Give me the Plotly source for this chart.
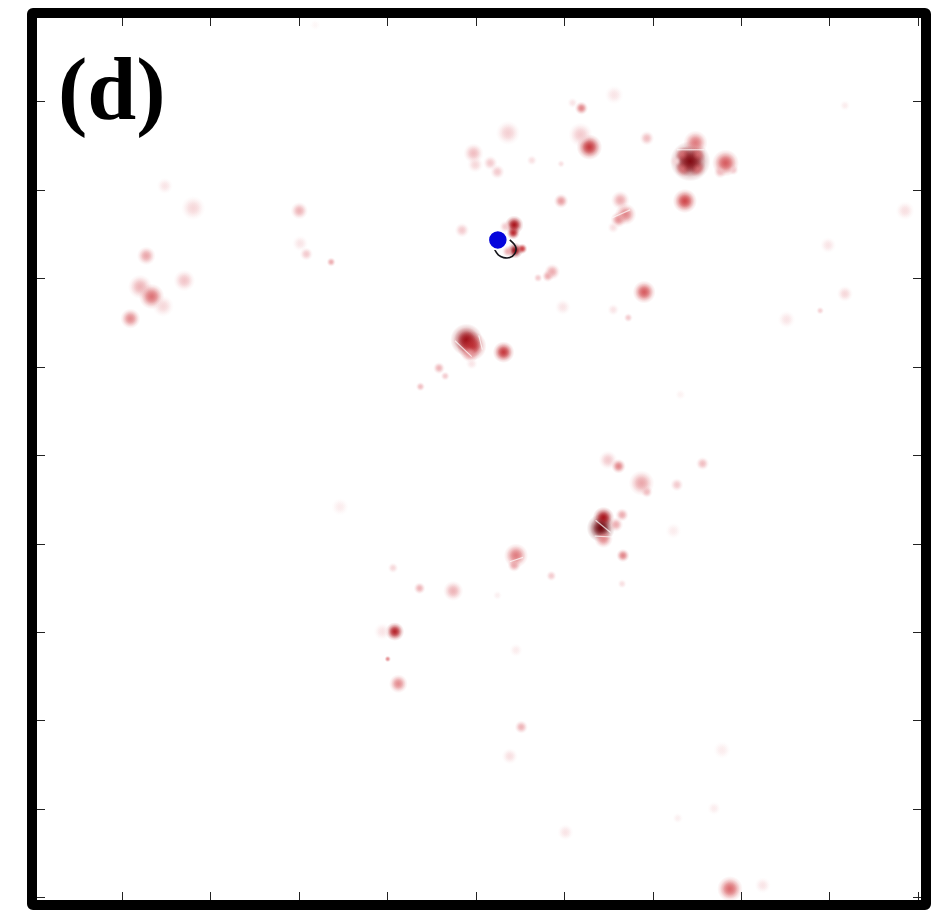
import plotly.graph_objects as go
from plotly.colors import sample_colorscale

# blobs: axis position, strength (0-1), diameter
blob_x = [7.34, 7.50, 7.34, 7.50, 7.42, 7.48, 7.26, 7.82, 7.76, 7.91, 7.36, 6.28, 6.18, 6.19, 6.09, 6.56, 6.93, 5.36, 4.97, 4.99,
          5.16, 5.24, 5.63, 5.96, 5.96, 6.63, 6.69, 6.61, 6.55, 4.84, 5.43, 5.42, 5.33, 5.44, 5.52, 5.36,
          5.86, 5.81, 5.70, 6.90, 5.98, 6.55, 6.72, 4.89, 4.95, 4.93, 5.31, 4.58, 4.65, 4.37, 4.95,
          1.48, 1.80, 3.00, 3.01, 3.08, 3.36, 1.27, 1.20, 1.33, 1.46, 1.70, 1.09,
          6.49, 6.61, 6.87, 6.93, 7.27, 7.56, 6.44, 6.41, 6.44, 6.58, 6.65, 6.66, 6.65, 7.23,
          5.45, 5.43, 5.85, 4.74, 4.36, 4.06, 4.08, 3.94, 4.00, 4.12, 5.45, 5.24, 3.46,
          7.87, 8.24, 6.01, 5.51, 5.38, 7.78, 7.69, 7.28, 9.85, 8.98, 9.17, 8.51, 8.89, 9.17, 7.31, 3.18]
blob_y = [8.40, 8.40, 8.25, 8.25, 8.33, 8.54, 8.33, 8.31, 8.21, 8.23, 7.88, 8.49, 8.63, 8.93, 8.99, 9.08, 8.59, 8.65, 8.42, 8.29,
          8.31, 8.21, 8.34, 8.30, 7.88, 7.89, 7.73, 7.67, 7.58, 7.55, 7.61, 7.52, 7.59, 7.32, 7.34, 7.31,
          7.08, 7.03, 7.01, 6.85, 6.68, 6.65, 6.56, 6.31, 6.24, 6.16, 6.17, 5.99, 5.90, 5.78, 6.04,
          8.05, 7.80, 7.77, 7.40, 7.28, 7.19, 7.26, 6.91, 6.80, 6.69, 6.98, 6.55,
          4.95, 4.88, 4.69, 4.59, 4.67, 4.91, 4.30, 4.18, 4.06, 4.22, 4.33, 3.87, 3.55, 4.15,
          3.87, 3.76, 3.64, 3.47, 3.50, 3.73, 3.01, 3.01, 2.70, 2.42, 2.80, 3.42, 4.42,
          0.10, 0.14, 0.74, 1.93, 1.60, 1.67, 1.01, 0.90, 7.77, 7.38, 6.83, 6.54, 6.64, 8.96, 5.69, 9.87]
blob_val = [.45, .45, .45, .45, .95, .45, .15, .55, .25, .2, .62, .68, .2, .42, .1, .1, .25, .18, .25, .15,
            .2, .2, .12, .12, .35, .3, .42, .38, .12, .2, .85, .75, .2, .9, .65, .3,
            .3, .3, .2, .55, .1, .1, .2, .88, .72, .35, .68, .28, .2, .25, .1,
            .1, .15, .28, .1, .2, .3, .32, .28, .48, .15, .22, .4,
            .2, .42, .32, .25, .2, .25, .85, 1.0, .4, .3, .3, .42, .12, .07,
            .45, .32, .2, .28, .28, .15, .78, .1, .4, .4, .07, .06, .07,
            .5, .1, .1, .28, .12, .07, .07, .06, .12, .1, .15, .1, .18, .07, .05, .03]
blob_size = [13, 13, 13, 13, 30, 18, 9, 20, 10, 8, 18, 19, 18, 10, 8, 14, 11, 18, 15, 12,
             11, 11, 8, 6, 11, 14, 16, 12, 9, 11, 14, 10, 9, 12, 8, 9,
             12, 9, 7, 17, 12, 9, 7, 24, 22, 14, 16, 9, 7, 7, 9,
             12, 18, 13, 12, 10, 7, 14, 18, 19, 16, 16, 15,
             14, 11, 19, 9, 10, 10, 16, 21, 14, 11, 10, 10, 7, 12,
             18, 10, 8, 15, 9, 8, 14, 13, 5, 14, 10, 7, 13,
             19, 12, 12, 10, 12, 13, 10, 8, 14, 12, 12, 13, 6, 8, 8, 8]

# thin white streaks cutting through the strong blobs
streak_x = [4.76, 4.95, None, 5.03, 5.07, None, 7.27, 7.58, None, 6.35, 6.52, None, 6.34, 6.55, None,
            6.54, 6.74, None, 5.38, 5.53]
streak_y = [6.30, 6.12, None, 6.36, 6.20, None, 8.46, 8.46, None, 4.27, 4.13, None, 4.09, 4.08, None,
            7.69, 7.78, None, 3.80, 3.85]

# black trajectory near the blue point
arc_x = [5.21, 5.25, 5.31, 5.38, 5.44, 5.45, 5.43, 5.38]
arc_y = [7.33, 7.27, 7.24, 7.24, 7.29, 7.35, 7.39, 7.44]

point_x = [5.245]
point_y = [7.44]

tick_x = [1, 2, 3, 4, 5, 6, 7, 8, 9, 10]
tick_y = [0, 1, 2, 3, 4, 5, 6, 7, 8, 9]

reds = [[0, "#ffffff"], [0.25, "#f0bcc0"], [0.6, "#d2484c"], [0.85, "#a81018"], [1, "#6a0008"]]

centre_colors = sample_colorscale(reds, blob_val)
rim_colors = [c.replace("rgb(", "rgba(").replace(")", ", 0)") for c in centre_colors]

fig = go.Figure()

# three stacked radial gradients give a soft blob with a flat-ish middle
for scale in [1.35, 1.05, 0.75]:
    fig.add_trace(go.Scatter(
        x=blob_x, y=blob_y, mode="markers", hoverinfo="skip",
        marker=dict(
            color=rim_colors, size=[s * scale for s in blob_size],
            line=dict(width=0),
            gradient=dict(type="radial", color=centre_colors),
        ),
    ))
fig.add_trace(go.Scatter(
    x=streak_x, y=streak_y, mode="lines", hoverinfo="skip",
    line=dict(color="rgba(255,255,255,0.7)", width=1.2),
))
fig.add_trace(go.Scatter(
    x=arc_x, y=arc_y, mode="lines", hoverinfo="skip",
    line=dict(color="#15151a", width=1.6, shape="spline"),
))
fig.add_trace(go.Scatter(
    x=point_x, y=point_y, mode="markers", hoverinfo="skip",
    marker=dict(color="#0505dc", size=19, line=dict(color="white", width=1.5)),
))

axis = dict(showgrid=False, zeroline=False, showticklabels=False, ticks="inside",
            ticklen=8, tickwidth=1, tickcolor="#222222", mirror="ticks",
            showline=True, linecolor="#666666", linewidth=1)
fig.update_xaxes(axis, range=[0.034, 10.03], tickvals=tick_x)
fig.update_yaxes(axis, range=[-0.026, 9.95], tickvals=tick_y)

# heavy rounded frame, just outside the plot area
fl, fr, fb, ft = -5 / 884, 1 + 5 / 884, -5 / 882, 1 + 5 / 882
dx, dy = 1 / 884, 1 / 882
frame = (f"M {fl + dx} {ft} L {fr - dx} {ft} Q {fr} {ft} {fr} {ft - dy} "
         f"L {fr} {fb + dy} Q {fr} {fb} {fr - dx} {fb} "
         f"L {fl + dx} {fb} Q {fl} {fb} {fl} {fb + dy} "
         f"L {fl} {ft - dy} Q {fl} {ft} {fl + dx} {ft} Z")
fig.add_shape(type="path", path=frame, xref="paper", yref="paper",
              line=dict(color="black", width=10))

fig.add_annotation(
    text="<b>(d)</b>", xref="paper", yref="paper", x=0.022, y=0.976,
    xanchor="left", yanchor="top", showarrow=False,
    font=dict(family="Liberation Serif", size=88, color="black"),
)

fig.update_layout(
    width=931, height=911, showlegend=False,
    margin=dict(l=37, r=10, t=18, b=11),
    paper_bgcolor="white", plot_bgcolor="white",
)

fig.write_html("out.html", config=dict(displayModeBar=False),
               post_script="document.body.style.margin='0';document.body.style.overflow='hidden';")
